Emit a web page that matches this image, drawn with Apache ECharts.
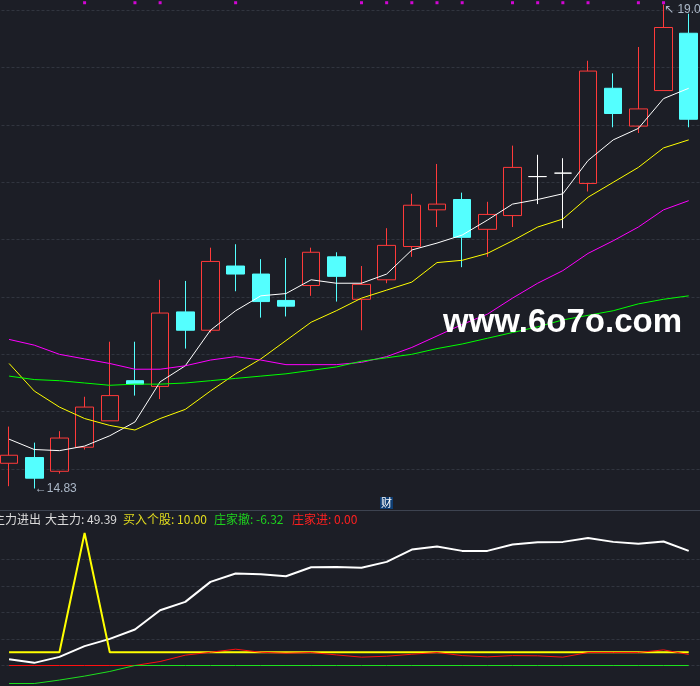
<!DOCTYPE html>
<html><head><meta charset="utf-8">
<script src="https://cdn.jsdelivr.net/npm/echarts@6/dist/echarts.min.js"></script>
<style>html,body{margin:0;padding:0;background:#1c1e26;overflow:hidden;width:700px;height:686px}#c{position:absolute;left:-4px;top:0;width:712px;height:700px;}</style>
</head><body><div id="c"></div>
<script>
// ---------- data ----------
const categories = ['1','2','3','4','5','6','7','8','9','10','11','12','13','14','15','16','17','18','19','20','21','22','23','24','25','26','27','28'];
const open  = [15.05,15.10,14.98,15.19,15.42,15.77,15.72,16.37,16.21,16.77,16.70,16.47,16.60,16.85,16.48,16.65,16.94,17.26,17.35,17.09,17.21,17.55,17.58,17.49,18.32,17.99,18.30,18.80];
const close = [15.12,14.92,15.27,15.54,15.64,15.74,16.36,16.21,16.81,16.70,16.46,16.42,16.89,16.68,16.61,16.95,17.30,17.31,17.02,17.22,17.63,17.55,17.58,18.47,18.10,18.14,18.85,18.05];
const low   = [14.85,14.83,14.96,15.17,15.42,15.64,15.61,16.05,16.19,16.55,16.32,16.33,16.51,16.46,16.21,16.62,16.85,17.11,16.76,16.85,17.11,17.31,17.10,17.42,17.98,17.93,18.30,17.98];
const high  = [15.37,15.23,15.33,15.63,16.11,16.11,16.65,16.64,16.93,16.96,16.83,16.84,16.93,16.89,16.77,17.10,17.40,17.66,17.41,17.33,17.82,17.74,17.71,18.56,18.45,18.68,19.05,18.97];
const ma5   = [15.26,15.17,15.16,15.20,15.29,15.41,15.76,15.90,16.21,16.38,16.51,16.53,16.65,16.62,16.62,16.70,16.91,16.97,17.04,17.17,17.31,17.35,17.40,17.69,17.87,17.97,18.23,18.32];
const ma10  = [15.92,15.68,15.54,15.44,15.38,15.34,15.44,15.52,15.68,15.83,15.96,16.12,16.28,16.38,16.49,16.56,16.63,16.80,16.82,16.88,16.99,17.11,17.18,17.37,17.50,17.63,17.80,17.87];
const ma20  = [16.13,16.08,16.00,15.96,15.92,15.87,15.87,15.90,15.95,15.98,15.95,15.91,15.91,15.91,15.93,15.98,16.06,16.16,16.26,16.35,16.49,16.62,16.73,16.88,16.99,17.11,17.26,17.34];
const ma60  = [15.81,15.78,15.77,15.75,15.73,15.74,15.74,15.75,15.77,15.79,15.81,15.83,15.86,15.89,15.94,15.97,16.00,16.05,16.09,16.14,16.19,16.24,16.30,16.34,16.38,16.44,16.48,16.51];
const signalFlags = [0,0,0,1,0,1,1,0,0,1,0,0,0,0,1,1,1,1,1,0,1,1,1,1,0,1,1,0];
// indicator panel 主力进出
const bigMain  = [4.8,2.0,6.5,14.6,20.1,27.2,41.7,48.0,63.1,69.4,68.9,67.4,74.2,74.4,73.7,78.2,87.5,89.8,86.5,86.5,91.3,93.1,93.3,96.3,93.3,91.8,93.6,86.5];
const buyStock = [10,10,10,100,10,10,10,10,10,10,10,10,10,10,10,10,10,10,10,10,10,10,10,10,10,10,10,10];
const dealerOut= [-13.6,-13.6,-11.0,-8.0,-4.5,0,0,0,0,0,0,0,0,0,0,0,0,0,0,0,0,0,0,0,0,0,0,0];
const dealerIn = [0,0,0,0,0,0,3.0,7.8,10.0,12.3,10.0,9.3,9.8,8.0,6.3,7.0,8.5,9.8,7.5,6.5,7.5,7.3,6.3,9.8,9.8,9.8,11.8,8.3];
const titleParts = [
  {text:'主力进出', color:'#dcdcdc', x:-7},
  {text:'大主力: 49.39', color:'#dcdcdc', x:45},
  {text:'买入个股: 10.00', color:'#e2dc1e', x:123},
  {text:'庄家撤: -6.32', color:'#1ed21e', x:214},
  {text:'庄家进: 0.00', color:'#ff2020', x:292}
];

// ---------- build ----------
const OX = 4; // container is shifted 4px left of the window
const candleData = categories.map((c,i)=>[open[i],close[i],low[i],high[i]]);
let iMax=0,iMin=0;
high.forEach((v,i)=>{ if(v>high[iMax]) iMax=i; });
low.forEach((v,i)=>{ if(v<low[iMin]) iMin=i; });
const dots = [];
signalFlags.forEach((f,i)=>{ if(f) dots.push([i, 19.066]); });

const chart = echarts.init(document.getElementById('c'), null, {renderer:'canvas'});
const gridLine = {show:true, lineStyle:{color:'#31353f', type:[3,2], width:1}};
const left = -3.5 + OX, width = 704.8;
const lblFont = {color:'#cfdff0', fontSize:12, fontFamily:'Liberation Sans, DejaVu Sans'};
const option = {
  backgroundColor:'#1c1e26',
  animation:false,
  grid:[
    {left:left, width:width, top:10.3, height:458.7},
    {left:left, width:width, top:533, height:159}
  ],
  xAxis:[
    {type:'category', data:categories, gridIndex:0, show:false, boundaryGap:true},
    {type:'category', data:categories, gridIndex:1, show:false, boundaryGap:true, axisLine:{show:false}}
  ],
  yAxis:[
    {type:'value', gridIndex:0, min:15, max:19, interval:0.5, axisLine:{show:false}, axisTick:{show:false}, axisLabel:{show:false}, splitLine:gridLine},
    {type:'value', gridIndex:1, min:-20, max:100, interval:20, axisLine:{show:false}, axisTick:{show:false}, axisLabel:{show:false},
      splitLine:{show:true, showMinLine:false, showMaxLine:false, lineStyle:{color:'#31353f', type:[3,2], width:1}}}
  ],
  series:[
    {type:'candlestick', xAxisIndex:0, yAxisIndex:0, data:candleData, barWidth:18, clip:false, z:2,
      itemStyle:{color:'rgba(0,0,0,0)', color0:'#54ffff', borderColor:'#ff3a3a', borderColor0:'#54ffff', borderColorDoji:'#ffffff', borderWidth:1}},
    {type:'line', name:'MA5', data:ma5, xAxisIndex:0, yAxisIndex:0, symbol:'none', clip:false, z:3, lineStyle:{color:'#ffffff', width:1}},
    {type:'line', name:'MA10', data:ma10, xAxisIndex:0, yAxisIndex:0, symbol:'none', clip:false, z:3, lineStyle:{color:'#ffff00', width:1}},
    {type:'line', name:'MA20', data:ma20, xAxisIndex:0, yAxisIndex:0, symbol:'none', clip:false, z:3, lineStyle:{color:'#ff00ff', width:1}},
    {type:'line', name:'MA60', data:ma60, xAxisIndex:0, yAxisIndex:0, symbol:'none', clip:false, z:3, lineStyle:{color:'#00ff00', width:1}},
    {type:'scatter', data:dots, xAxisIndex:0, yAxisIndex:0, symbol:'rect', symbolSize:3, clip:false, itemStyle:{color:'#ff00ff'}, z:4},
    {type:'scatter', name:'extremes', xAxisIndex:0, yAxisIndex:0, clip:false, z:6, silent:true,
      symbol:'circle', symbolSize:1, itemStyle:{color:'rgba(0,0,0,0)'},
      data:[
        {value:[iMin, low[iMin]], label:Object.assign({show:true, position:'right', distance:0, formatter:'←'+low[iMin].toFixed(2)}, lblFont)},
        {value:[iMax, high[iMax]], label:Object.assign({show:true, position:'right', distance:0, offset:[0,5], formatter:'↖ '+high[iMax].toFixed(2)}, lblFont)}
      ]},
    {type:'line', name:'大主力', data:bigMain, xAxisIndex:1, yAxisIndex:1, symbol:'none', clip:false, z:3, lineStyle:{color:'#ffffff', width:2}},
    {type:'line', name:'买入个股', data:buyStock, xAxisIndex:1, yAxisIndex:1, symbol:'none', clip:false, z:4, lineStyle:{color:'#ffff00', width:2}},
    {type:'line', name:'庄家进', data:dealerIn, xAxisIndex:1, yAxisIndex:1, symbol:'none', clip:false, z:5, lineStyle:{color:'#ff1010', width:1}},
    {type:'line', name:'庄家撤', data:dealerOut, xAxisIndex:1, yAxisIndex:1, symbol:'none', clip:false, z:6, lineStyle:{color:'#1ee01e', width:1}}
  ],
  graphic:[
    {type:'line', shape:{x1:0,y1:510.5,x2:712,y2:510.5}, style:{stroke:'#3d4350', lineWidth:1}, z:10},
    {type:'rect', shape:{x:380+OX,y:497,width:13,height:12}, style:{fill:'#0e3d72'}, z:10},
    {type:'text', x:386.5+OX, y:503, z:11, style:{text:'财', fill:'#ffffff', font:'11px "Noto Sans CJK SC"', align:'center', verticalAlign:'middle'}},
    {type:'text', x:443+OX, y:323, z:11, style:{text:'www.6o7o.com', fill:'#ffffff', font:'bold 33px "Liberation Sans"', align:'left', verticalAlign:'middle'}}
  ].concat(titleParts.map(p=>({type:'text', x:p.x+OX, y:519, z:11, style:{text:p.text, fill:p.color, font:'12px "Noto Sans CJK SC"', align:'left', verticalAlign:'middle'}})))
};
chart.setOption(option);
</script></body></html>
